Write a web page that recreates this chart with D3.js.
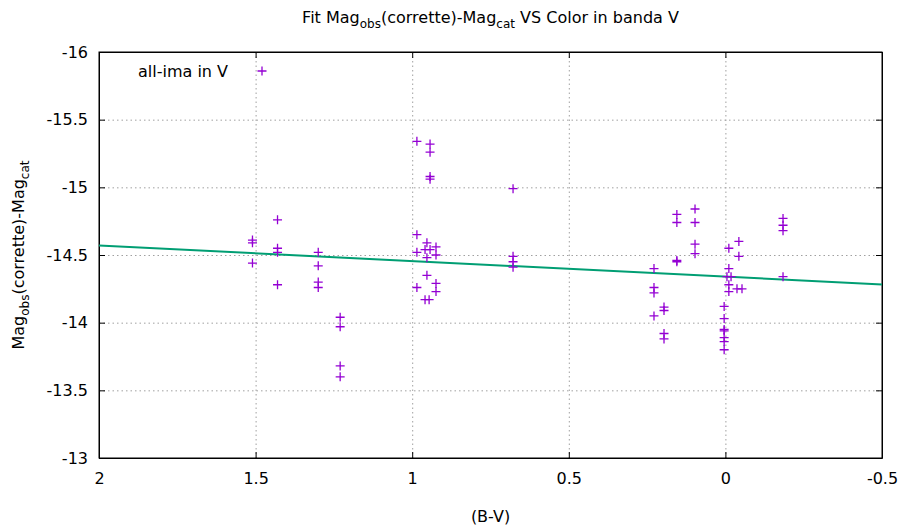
<!DOCTYPE html>
<html>
<head>
<meta charset="utf-8">
<script src="https://cdn.jsdelivr.net/npm/d3@7"></script>
<style>
    body { margin: 0; background: #fff; }
    svg text { font-family: "DejaVu Sans", Tahoma, sans-serif; fill: #000; }
    .grid line { stroke: #a0a0a0; stroke-width: 1; stroke-dasharray: 1.5,3; }
</style>
</head>
<body>
<div id="fit-chart"></div>
<script>
// (B-V) colour of each star
var bvColor = [
    1.51, 1.51, 1.51,
    1.43, 1.43, 1.43, 1.43,
    1.30, 1.30, 1.30, 1.30,
    1.23, 1.23, 1.23, 1.23,
    0.985, 0.985, 0.985, 0.985,
    0.943, 0.943, 0.943, 0.943,
    0.953, 0.953, 0.953,
    0.959, 0.943, 0.959, 0.946,
    0.924, 0.924, 0.924, 0.924,
    0.678, 0.678, 0.678, 0.678,
    0.228, 0.228, 0.228, 0.228,
    0.196, 0.196, 0.196, 0.196,
    0.155, 0.155, 0.155, 0.155,
    0.097, 0.097, 0.097, 0.097,
    0.004, 0.004, 0.004, 0.004, 0.004, 0.004, 0.004,
    -0.011, -0.011, -0.005, -0.018, -0.011, -0.011,
    -0.043, -0.043, -0.037, -0.053,
    -0.184, -0.184, -0.184, -0.184
];

// Mag_obs(corrette) - Mag_cat
var magDiff = [
    -14.61, -14.59, -14.44,
    -14.76, -14.55, -14.52, -14.28,
    -14.52, -14.42, -14.30, -14.26,
    -14.04, -13.97, -13.68, -13.60,
    -15.34, -14.65, -14.52, -14.26,
    -15.32, -15.26, -15.08, -15.06,
    -14.59, -14.48, -14.35,
    -14.54, -14.54, -14.17, -14.17,
    -14.56, -14.50, -14.29, -14.23,
    -14.99, -14.49, -14.45, -14.41,
    -14.40, -14.26, -14.22, -14.05,
    -14.115, -14.09, -13.92, -13.88,
    -14.80, -14.74, -14.46, -14.45,
    -14.84, -14.74, -14.58, -14.51,
    -14.12, -14.03, -13.95, -13.94, -13.89, -13.86, -13.80,
    -14.55, -14.40, -14.34, -14.34, -14.28, -14.23,
    -14.60, -14.49, -14.25, -14.25,
    -14.77, -14.72, -14.68, -14.34
];

// linear fit  y = fitIntercept + fitSlope * x
var fitIntercept = -14.34;
var fitSlope = -0.115;

var xTicks = [2, 1.5, 1, 0.5, 0, -0.5];
var yTicks = [-16, -15.5, -15, -14.5, -14, -13.5, -13];
var legendLabel = 'all-ima in V';

FitChart = function(_parentElement) {
    this.parentElement = _parentElement;
    this.data = bvColor.map(function(b, i) {
        return { bv: b, mag: magDiff[i] };
    });
    this.initVisualization();
}

FitChart.prototype.initVisualization = function() {
    var vis = this;

    vis.margin = { top: 52, right: 19, bottom: 74, left: 99 };
    vis.width = 901 - vis.margin.left - vis.margin.right;
    vis.height = 532 - vis.margin.top - vis.margin.bottom;

    vis.root = d3.select('#' + vis.parentElement)
        .append('svg')
        .attr('width', 901)
        .attr('height', 532);

    vis.svg = vis.root.append('g')
        .attr('transform', 'translate(' + vis.margin.left + ',' + vis.margin.top + ')');

    // reversed scales, as in the gnuplot figure
    vis.x = d3.scaleLinear().domain([2, -0.5]).range([0, vis.width]);
    vis.y = d3.scaleLinear().domain([-16, -13]).range([0, vis.height]);

    // plain hyphen for negatives, like gnuplot
    var fmt = function(d) { return String(d); };

    // Grid
    vis.svg.append('g')
        .attr('class', 'grid')
        .call(d3.axisBottom(vis.x).tickValues(xTicks).tickSize(vis.height).tickFormat(''))
        .call(function(g) { g.select('.domain').remove(); });

    vis.svg.append('g')
        .attr('class', 'grid')
        .call(d3.axisRight(vis.y).tickValues(yTicks).tickSize(vis.width).tickFormat(''))
        .call(function(g) { g.select('.domain').remove(); });

    // Axes (inward ticks, mirrored)
    var tickLen = 6;
    vis.svg.append('g')
        .attr('class', 'x-axis axis')
        .attr('transform', 'translate(0,' + vis.height + ')')
        .call(d3.axisBottom(vis.x).tickValues(xTicks).tickSizeInner(-tickLen).tickSizeOuter(0).tickPadding(15)
            .tickFormat(fmt));

    vis.svg.append('g')
        .attr('class', 'x-axis-top axis')
        .call(d3.axisTop(vis.x).tickValues(xTicks).tickSizeInner(-tickLen).tickSizeOuter(0).tickFormat(''));

    vis.svg.append('g')
        .attr('class', 'y-axis axis')
        .call(d3.axisLeft(vis.y).tickValues(yTicks).tickSizeInner(-tickLen).tickSizeOuter(0).tickPadding(11)
            .tickFormat(fmt));

    vis.svg.append('g')
        .attr('class', 'y-axis-right axis')
        .attr('transform', 'translate(' + vis.width + ',0)')
        .call(d3.axisRight(vis.y).tickValues(yTicks).tickSizeInner(-tickLen).tickSizeOuter(0).tickFormat(''));

    vis.svg.selectAll('.axis path').attr('stroke', '#000').attr('stroke-width', 1);
    vis.svg.selectAll('.axis line').attr('stroke', '#000').attr('stroke-width', 1);
    vis.svg.selectAll('.axis text').attr('font-size', 16).attr('font-family', '"DejaVu Sans", Tahoma, sans-serif');

    // Title
    var title = vis.root.append('text')
        .attr('x', vis.margin.left + vis.width / 2)
        .attr('y', 23)
        .attr('text-anchor', 'middle')
        .attr('font-size', 16);
    title.append('tspan').text('Fit Mag');
    title.append('tspan').attr('font-size', 12).attr('dy', 5).text('obs');
    title.append('tspan').attr('dy', -5).text('(corrette)-Mag');
    title.append('tspan').attr('font-size', 12).attr('dy', 5).text('cat');
    title.append('tspan').attr('dy', -5).text(' VS Color in banda V');

    // Axis labels
    vis.root.append('text')
        .attr('x', vis.margin.left + vis.width / 2)
        .attr('y', 522)
        .attr('text-anchor', 'middle')
        .attr('font-size', 16)
        .text('(B-V)');

    var ylab = vis.root.append('text')
        .attr('transform', 'translate(24,' + (vis.margin.top + vis.height / 2) + ') rotate(-90)')
        .attr('text-anchor', 'middle')
        .attr('font-size', 16);
    ylab.append('tspan').text('Mag');
    ylab.append('tspan').attr('font-size', 12).attr('dy', 5).text('obs');
    ylab.append('tspan').attr('dy', -5).text('(corrette)-Mag');
    ylab.append('tspan').attr('font-size', 12).attr('dy', 5).text('cat');

    // Border
    vis.svg.append('rect')
        .attr('width', vis.width)
        .attr('height', vis.height)
        .attr('fill', 'none')
        .attr('stroke', '#000')
        .attr('stroke-width', 1);

    vis.updateVisualization();
}

FitChart.prototype.updateVisualization = function() {
    var vis = this;

    // Fit line
    vis.line = d3.line()
        .x(function(d) { return vis.x(d); })
        .y(function(d) { return vis.y(fitIntercept + fitSlope * d); });

    vis.svg.append('path')
        .datum([2, -0.5])
        .attr('fill', 'none')
        .attr('stroke', '#009e73')
        .attr('stroke-width', 2)
        .attr('d', vis.line);

    // Points as gnuplot "+" marks
    var s = 4.5;
    var plus = function(cx, cy) {
        return 'M' + (cx - s) + ',' + cy + 'H' + (cx + s) + 'M' + cx + ',' + (cy - s) + 'V' + (cy + s);
    };

    vis.svg.selectAll('.pt')
        .data(vis.data)
        .enter()
        .append('path')
        .attr('class', 'pt')
        .attr('fill', 'none')
        .attr('stroke', '#9400d3')
        .attr('stroke-width', 1.3)
        .attr('d', function(d) { return plus(vis.x(d.bv), vis.y(d.mag)); });

    // Legend
    vis.svg.append('text')
        .attr('x', 129)
        .attr('y', 25)
        .attr('text-anchor', 'end')
        .attr('font-size', 16)
        .text(legendLabel);

    vis.svg.append('path')
        .attr('fill', 'none')
        .attr('stroke', '#9400d3')
        .attr('stroke-width', 1.3)
        .attr('d', plus(163, 19));
}

new FitChart('fit-chart');
</script>
</body>
</html>
